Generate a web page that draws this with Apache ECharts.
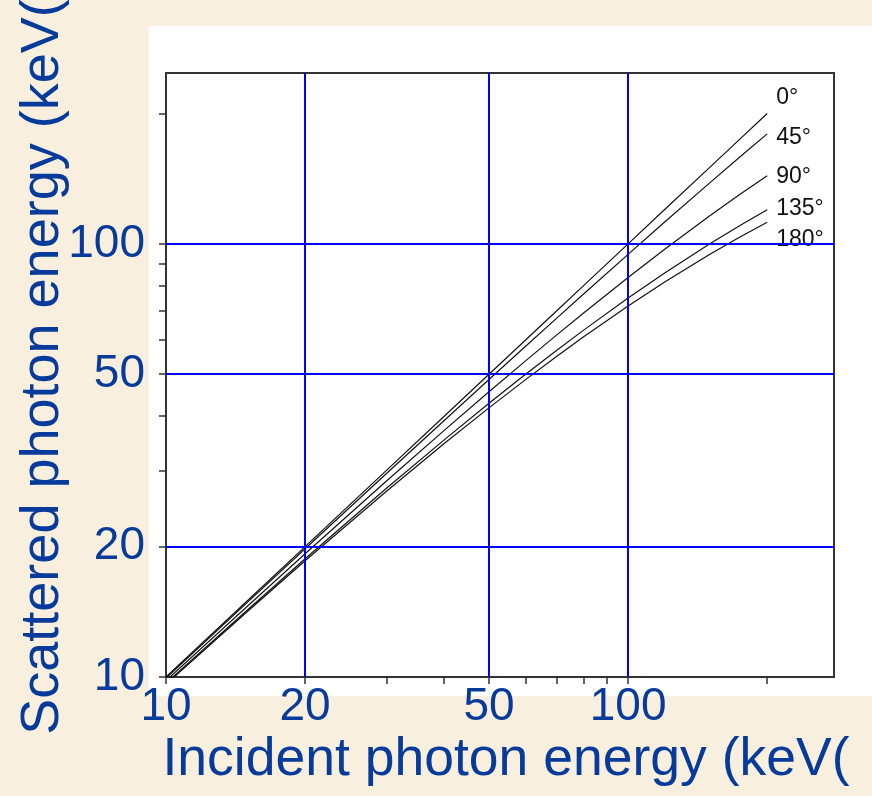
<!DOCTYPE html>
<html>
<head>
<meta charset="utf-8">
<script src="https://cdn.jsdelivr.net/npm/echarts@6/dist/echarts.min.js"></script>
<style>
html,body{margin:0;padding:0;background:#F9EFDF;}
#chart{width:872px;height:796px;}
</style>
</head>
<body>
<div id="chart"></div>
<script>
// Incident photon energy (keV)
var incident = [10, 15, 20, 30, 40, 50, 60, 70, 80, 100, 120, 150, 175, 200];
// Scattered photon energy (keV) for each scattering angle
var scat0   = [10, 15, 20, 30, 40, 50, 60, 70, 80, 100, 120, 150, 175, 200];
var scat45  = [9.94, 14.87, 19.77, 29.49, 39.10, 48.61, 58.01, 67.30, 76.49, 94.58, 112.28, 138.1, 159.05, 179.4];
var scat90  = [9.81, 14.57, 19.25, 28.34, 37.10, 45.54, 53.69, 61.56, 69.17, 83.63, 97.18, 115.96, 130.36, 143.7];
var scat135 = [9.68, 14.28, 18.75, 27.27, 35.28, 42.84, 49.98, 56.73, 63.13, 74.96, 85.66, 99.93, 110.43, 119.9];
var scat180 = [9.62, 14.17, 18.55, 26.85, 34.59, 41.82, 48.59, 54.95, 60.92, 71.87, 81.65, 94.52, 103.86, 112.2];
var angleNames = ['0°', '45°', '90°', '135°', '180°'];
var angleSeries = [scat0, scat45, scat90, scat135, scat180];
// Axis ticks, labels and grid lines
var tickValues = [10, 20, 30, 40, 50, 60, 70, 80, 90, 100, 200];
var labelValues = [10, 20, 50, 100];
var gridValues = [20, 50, 100];

var labelOffsets = [[0, -16], [0, 4], [0, 1], [0, -1], [0, 17]];
var FONT = '"Liberation Sans", Arial, sans-serif';
var BLUE_TEXT = '#063A9B';

var chart = echarts.init(document.getElementById('chart'));

var series = angleSeries.map(function (vals, i) {
  return {
    name: angleNames[i],
    type: 'line',
    symbol: 'none',
    z: 3,
    lineStyle: { color: '#111', width: 1.2 },
    data: incident.map(function (e, j) { return [e, vals[j]]; }),
    endLabel: {
      show: true,
      formatter: angleNames[i],
      color: '#111',
      fontSize: 23,
      fontFamily: FONT,
      distance: 9,
      offset: labelOffsets[i]
    }
  };
});

var markData = [];
gridValues.forEach(function (v) { markData.push({ xAxis: v }); markData.push({ yAxis: v }); });
series.push({
  name: 'grid',
  type: 'line',
  data: [],
  z: 2,
  markLine: {
    silent: true,
    symbol: 'none',
    label: { show: false },
    lineStyle: { color: '#0000FF', width: 2, type: 'solid' },
    data: markData
  }
});

chart.setOption({
  animation: false,
  backgroundColor: '#F9EFDF',
  graphic: [{
    type: 'rect', z: -10, silent: true,
    shape: { x: 149, y: 26, width: 723, height: 670 },
    style: { fill: '#FFFFFF' }
  }],
  grid: {
    left: 166, right: 38, top: 73, bottom: 119,
    outerBoundsMode: 'none', containLabel: false,
    show: true, borderColor: '#333', borderWidth: 2, backgroundColor: 'transparent'
  },
  xAxis: {
    type: 'log', logBase: 10, min: 10, max: 279,
    name: 'Incident photon energy (keV(',
    nameLocation: 'middle', nameGap: 56, nameMoveOverlap: false,
    nameTextStyle: { color: BLUE_TEXT, fontSize: 53.5, fontFamily: FONT, padding: [0, 0, 0, 12] },
    axisLine: { lineStyle: { color: '#333', width: 2 } },
    axisTick: { show: true, length: 7, customValues: tickValues, lineStyle: { color: '#333', width: 1.5 } },
    axisLabel: { customValues: labelValues, color: BLUE_TEXT, fontSize: 46, fontFamily: FONT, margin: 7 },
    splitLine: { show: false },
    minorTick: { show: false }
  },
  yAxis: {
    type: 'log', logBase: 10, min: 10, max: 248,
    name: 'Scattered photon energy (keV(',
    nameLocation: 'middle', nameGap: 96, nameMoveOverlap: false,
    nameTextStyle: { color: BLUE_TEXT, fontSize: 54, fontFamily: FONT, padding: [0, 0, 0, 16] },
    axisLine: { lineStyle: { color: '#333', width: 2 } },
    axisTick: { show: true, length: 7, customValues: tickValues, lineStyle: { color: '#333', width: 1.5 } },
    axisLabel: { customValues: labelValues, color: BLUE_TEXT, fontSize: 46, fontFamily: FONT, margin: 21 },
    splitLine: { show: false },
    minorTick: { show: false }
  },
  series: series
});
</script>
</body>
</html>
